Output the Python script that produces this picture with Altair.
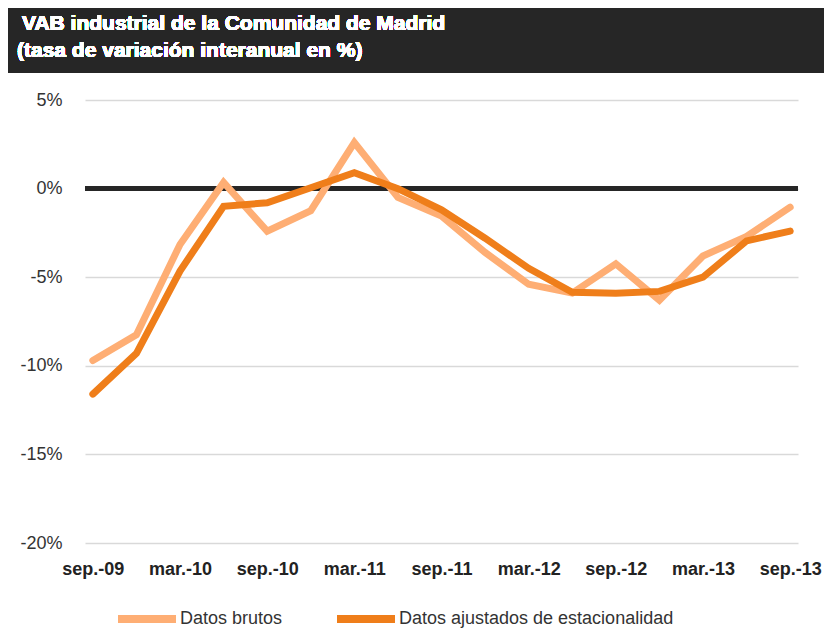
import altair as alt
import pandas as pd

quarters = ["sep.-09", "dic.-09", "mar.-10", "jun.-10", "sep.-10", "dic.-10",
            "mar.-11", "jun.-11", "sep.-11", "dic.-11", "mar.-12", "jun.-12",
            "sep.-12", "dic.-12", "mar.-13", "jun.-13", "sep.-13"]
brutos = [-9.7, -8.25, -3.15, 0.35, -2.4, -1.25, 2.6, -0.5, -1.55, -3.6,
          -5.4, -5.9, -4.25, -6.3, -3.8, -2.7, -1.05]
ajustados = [-11.6, -9.3, -4.65, -1.0, -0.8, 0.05, 0.9, 0.0, -1.2, -2.8,
             -4.5, -5.85, -5.9, -5.8, -5.0, -2.95, -2.4]
series_names = ["Datos brutos", "Datos ajustados de estacionalidad"]
tick_labels = ["sep.-09", "mar.-10", "sep.-10", "mar.-11", "sep.-11",
               "mar.-12", "sep.-12", "mar.-13", "sep.-13"]
title_lines = ["VAB industrial de la Comunidad de Madrid",
               "(tasa de variación interanual en %)"]

rows = []
for i, q in enumerate(quarters):
    rows.append({"q": q, "order": i, "serie": series_names[0], "v": brutos[i]})
    rows.append({"q": q, "order": i, "serie": series_names[1], "v": ajustados[i]})
df = pd.DataFrame(rows)

FONT = "Liberation Sans"

x_enc = alt.X("q:N", sort=quarters,
              scale=alt.Scale(type="point", padding=0.18),
              axis=alt.Axis(values=tick_labels, title=None, labelAngle=0,
                            labelFont=FONT, labelFontSize=18, labelFontWeight="bold",
                            labelColor="#222222", labelPadding=17, ticks=False,
                            domain=False, grid=False))
y_enc = alt.Y("v:Q", scale=alt.Scale(domain=[-20, 5], nice=False),
              axis=alt.Axis(values=[-20, -15, -10, -5, 0, 5], title=None,
                            labelExpr="datum.value + '%'", labelFont=FONT,
                            labelFontSize=18, labelColor="#333333",
                            labelPadding=23, ticks=False, domain=False,
                            grid=True, gridColor="#d9d9d9", gridWidth=1.5))

base = alt.Chart(df)

bar = base.mark_rect(color="#262626").encode(
    x=alt.value(-77), x2=alt.value(739), y=alt.value(-93), y2=alt.value(-27))
t1 = base.mark_text(text=title_lines[0], fill="white", font=FONT, fontSize=21,
                    fontWeight="bold", align="left", baseline="middle").encode(
    x=alt.value(-63), y=alt.value(-76))
t2 = base.mark_text(text=title_lines[1], fill="white", font=FONT, fontSize=21,
                    fontWeight="bold", align="left", baseline="middle").encode(
    x=alt.value(-68), y=alt.value(-49))

zero = base.mark_rule(color="#262626", strokeWidth=5).encode(y=alt.datum(0))

lines = base.mark_line(strokeWidth=7, strokeCap="round", strokeJoin="miter").encode(
    x=x_enc, y=y_enc,
    color=alt.Color("serie:N", sort=series_names,
                    scale=alt.Scale(domain=series_names, range=["#FEAE74", "#EF7E1A"]),
                    legend=alt.Legend(title=None, orient="none", direction="horizontal",
                                      legendX=29, legendY=486,
                                      symbolType="stroke", symbolSize=3364,
                                      symbolStrokeWidth=8, labelFont=FONT,
                                      labelFontSize=18, labelColor="#333333",
                                      labelLimit=500,
                                      labelOffset=0, columnPadding=38, padding=0)),
    order=alt.Order("order:Q"),
)

chart = alt.layer(bar, t1, t2, zero, lines).properties(
    width=713, height=443,
    padding={"left": 77, "top": 92, "right": 26, "bottom": 88},
    autosize=alt.AutoSizeParams(type="none"),
).configure_view(strokeWidth=0)

chart.save("out.html", embed_options={"renderer": "svg", "actions": False})
